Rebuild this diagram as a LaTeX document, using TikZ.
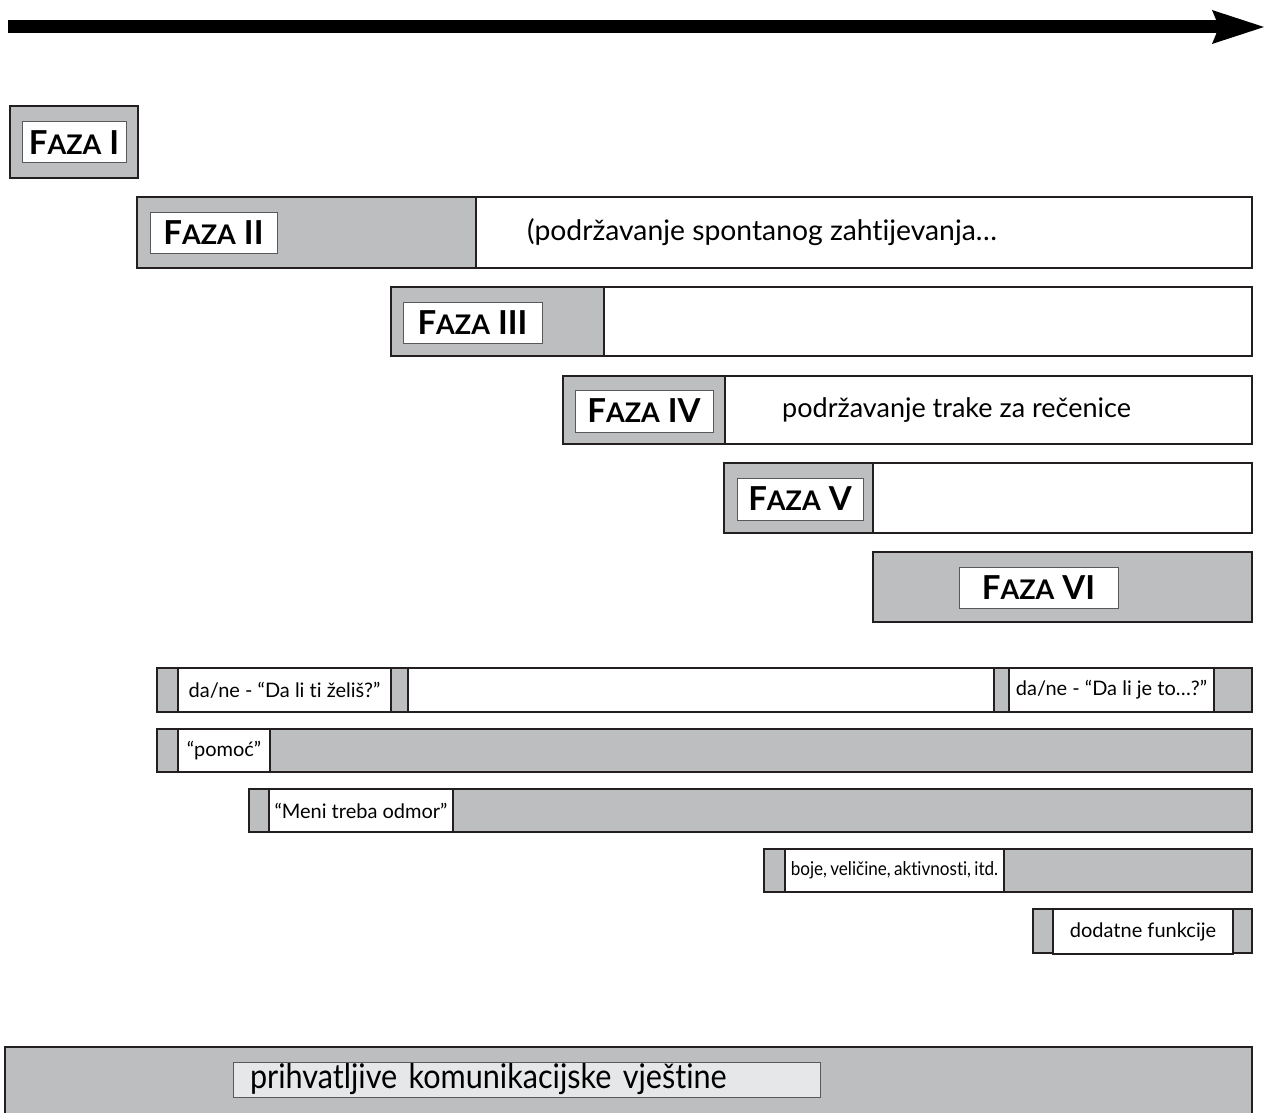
\documentclass[tikz,border=0pt]{standalone}
\usepackage{fontspec}
\setmainfont{Lato}[Ligatures={TeX,NoCommon}]
\newfontfamily\narrowfont{Lato}[FakeStretch=0.9, WordSpace=0.75, Ligatures={TeX,NoCommon}]
\usetikzlibrary{positioning,arrows.meta}

\definecolor{bargray}{RGB}{188,190,192}
\definecolor{palegray}{RGB}{230,231,232}
\definecolor{inkline}{RGB}{35,31,32}
\definecolor{boxline}{RGB}{88,89,91}
\newcommand{\faza}[1]{F{\fontsize{27}{28}\selectfont AZA} #1}

\tikzset{
  frame/.style={draw=inkline, line width=1.8pt},
  phasebox/.style={draw=boxline, line width=1pt, fill=white, inner sep=0pt,
    minimum height=41pt, font=\fontsize{33}{38}\selectfont\bfseries},
  tagbox/.style={draw=inkline, line width=1.5pt, fill=white, inner sep=0pt,
    font=\fontsize{20}{24}\selectfont},
  note/.style={anchor=west, inner sep=0pt, font=\fontsize{27}{32}\selectfont}
}

\begin{document}
\begin{tikzpicture}[x=1pt, y=-1pt]
    \useasboundingbox (0,0) rectangle (1264,1113);

    \coordinate (tstart) at (8,27);
    \coordinate (tend) at (1264,27);
    \draw[line width=13pt, -{Stealth[length=52pt, width=34pt, inset=7pt, line width=0pt]}] (tstart) -- (tend);

    \foreach \xa/\xg/\xb/\ya/\yb in {10/138/138/106/178, 137/476/1252/197/268, 391/604/1252/287/356,
        563/725/1252/376/444, 724/873/1252/463/533, 873/1252/1252/552/622}
    {
        \path[fill=bargray] (\xa,\ya) rectangle (\xg,\yb);
        \draw[frame] (\xa,\ya) rectangle (\xb,\yb);
        \draw[frame] (\xg,\ya) -- (\xg,\yb);
    }

    \node[phasebox, minimum width=104pt] (p1) at (74,142.5) {\faza{I}};
    \node[phasebox, minimum width=127pt] (p2) at (213.5,232.5) {\faza{II}};
    \node[phasebox, minimum width=139pt] (p3) at (472.5,322.5) {\faza{III}};
    \node[phasebox, minimum width=138pt, minimum height=42pt] (p4) at (644,411) {\faza{IV}};
    \node[phasebox, minimum width=126pt, minimum height=42pt] (p5) at (800,499) {\faza{V}};
    \node[phasebox, minimum width=159pt] (p6) at (1038.5,587.5) {\faza{VI}};

    \node[note, font=\fontsize{28.3}{32}\selectfont] (spont) at (527,232.5) {(podržavanje spontanog zahtijevanja…};
    \node[note] (strip) at (782,410) {podržavanje trake za rečenice};

    \foreach \xa/\ya/\yb in {157/668/712, 157/729/772, 249/789/832, 764/849/892, 1033/909/953}
        \draw[frame, fill=bargray] (\xa,\ya) rectangle (1252,\yb);

    \node[tagbox, minimum width=213pt, minimum height=44pt] (ask1) at (284.5,690) {da/ne - “Da li ti želiš?”};
    \node[tagbox, minimum width=586pt, minimum height=44pt] (blank) at (701,690) {};
    \node[tagbox, minimum width=205pt, minimum height=44pt] (ask2) at (1111.5,690) {da/ne - “Da li je to…?”};
    \node[tagbox, minimum width=92pt, minimum height=43pt] (help) at (224,750.5) {“pomoć”};
    \node[tagbox, minimum width=184pt, minimum height=43pt] (rest) at (361,810.5) {“Meni treba odmor”};
    \node[tagbox, minimum width=219pt, minimum height=43pt, font=\narrowfont\fontsize{19}{22}\selectfont] (attr)
        at (894.5,870.5) {boje, veličine, aktivnosti, itd.};
    \node[tagbox, minimum width=180pt, minimum height=45pt] (extra) at (1143,931.5) {dodatne funkcije};

    \draw[frame, fill=bargray] (5,1047) rectangle (1252,1125);
    \node[draw=boxline, line width=1pt, fill=palegray, minimum width=587pt, minimum height=35pt,
        inner xsep=17pt, inner ysep=0pt, text width=553pt, align=left,
        font=\narrowfont\fontsize{34}{36}\selectfont] (skills) at (526.5,1079.5) {prihvatljive komunikacijske vještine};

\end{tikzpicture}
\end{document}
